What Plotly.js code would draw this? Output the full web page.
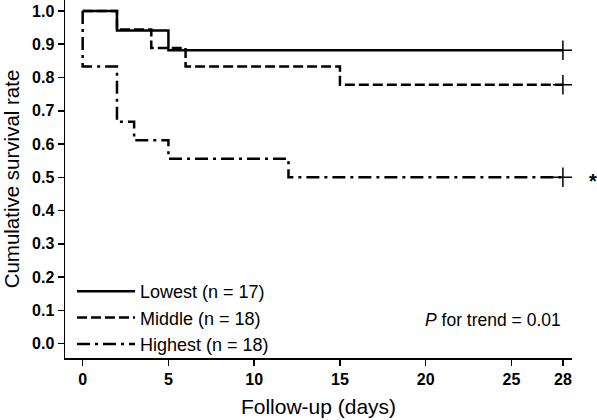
<!DOCTYPE html>
<html>
<head>
<meta charset="utf-8">
<script src="https://cdn.plot.ly/plotly-3.0.1.min.js"></script>
<style>html,body{margin:0;padding:0;background:#fff;}#chart{width:597px;height:420px;}</style>
</head>
<body>
<div id="chart"></div>
<script>
// Kaplan-Meier step data
const lowestDays = [0, 2, 5, 28];
const lowestSurv = [1.0, 0.941, 0.882, 0.882];
const middleDays = [0, 2, 4, 6, 15, 28];
const middleSurv = [1.0, 0.944, 0.889, 0.833, 0.778, 0.778];
const highestDays = [0, 0, 2, 3, 5, 12, 28];
const highestSurv = [1.0, 0.833, 0.667, 0.611, 0.556, 0.5, 0.5];
const censorDays = [28, 28, 28];
const censorSurv = [0.882, 0.778, 0.5];
const seriesNames = ['Lowest (n = 17)', 'Middle (n = 18)', 'Highest (n = 18)'];
const xTicks = [0, 5, 10, 15, 20, 25, 28];
const yTicks = [0, 0.1, 0.2, 0.3, 0.4, 0.5, 0.6, 0.7, 0.8, 0.9, 1.0];

const FONT = 'Liberation Sans, Arial, Helvetica, sans-serif';
const lw = 2.5;

const traces = [
  {x: lowestDays, y: lowestSurv, name: seriesNames[0], mode: 'lines', line: {shape: 'hv', color: '#000', width: lw, dash: 'solid'}},
  {x: middleDays, y: middleSurv, name: seriesNames[1], mode: 'lines', line: {shape: 'hv', color: '#000', width: lw, dash: '10px,4px'}},
  {x: highestDays, y: highestSurv, name: seriesNames[2], mode: 'lines', line: {shape: 'hv', color: '#000', width: lw, dash: '13px,5px,3px,5px'}},
  {x: censorDays, y: censorSurv, mode: 'markers', showlegend: false, hoverinfo: 'skip',
   marker: {symbol: 'cross-thin', size: 14, color: '#000', line: {color: '#000', width: 1.5}}}
];

const layout = {
  width: 597, height: 420,
  margin: {l: 65, r: 25, t: 0, b: 62},
  paper_bgcolor: '#fff', plot_bgcolor: '#fff',
  font: {family: FONT, color: '#000', size: 16},
  showlegend: true,
  legend: {x: 0.0138, y: -0.014, xanchor: 'left', yanchor: 'bottom', bgcolor: 'rgba(0,0,0,0)',
           font: {family: FONT, size: 18, color: '#000'}, itemwidth: 58, tracegroupgap: 0},
  xaxis: {
    range: [-1.03, 28.53], tickvals: xTicks, ticktext: xTicks.map(String),
    ticks: 'outside', ticklen: 6, tickwidth: 1.5, tickcolor: '#000',
    showline: true, linecolor: '#000', linewidth: 1.5, mirror: false,
    showgrid: false, zeroline: false,
    tickfont: {family: FONT, size: 16, weight: 'bold', color: '#000'},
    title: {text: 'Follow-up (days)', font: {family: FONT, size: 21, color: '#000'}, standoff: 12}
  },
  yaxis: {
    range: [-0.0434, 1.033], tickvals: yTicks, ticktext: yTicks.map(v => v.toFixed(1)),
    ticks: 'outside', ticklen: 6, tickwidth: 1.5, tickcolor: '#000',
    showline: true, linecolor: '#000', linewidth: 1.5,
    showgrid: false, zeroline: false,
    tickfont: {family: FONT, size: 16, weight: 'bold', color: '#000'},
    title: {text: 'Cumulative survival rate', font: {family: FONT, size: 20.5, color: '#000'}, standoff: 11}
  },
  annotations: [
    {xref: 'x', yref: 'y', x: 28.0, y: 0.07, xanchor: 'right', yanchor: 'middle', showarrow: false,
     text: '<i>P</i> for trend = 0.01', font: {family: FONT, size: 17.5, color: '#000'}},
    {xref: 'paper', yref: 'y', x: 1.0414, y: 0.5, yshift: -4, xanchor: 'center', yanchor: 'middle', showarrow: false,
     text: '<b>*</b>', font: {family: FONT, size: 20, color: '#000'}}
  ]
};

Plotly.newPlot('chart', traces, layout, {staticPlot: true, displayModeBar: false});
</script>
</body>
</html>
